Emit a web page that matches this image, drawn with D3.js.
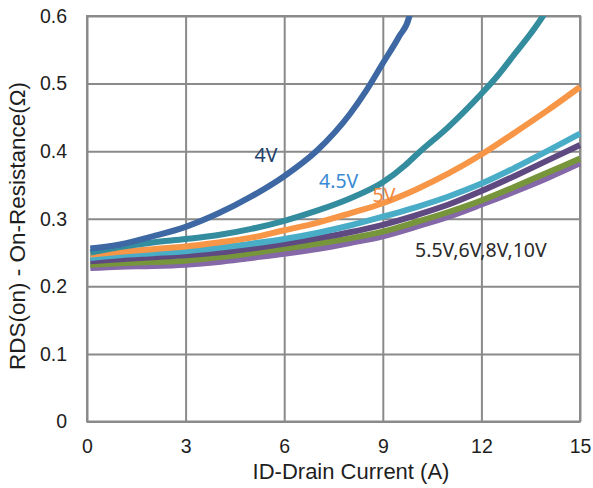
<!DOCTYPE html>
<html>
<head>
<meta charset="utf-8">
<script src="https://cdn.jsdelivr.net/npm/d3@7"></script>
<style>
  body { margin: 0; background: #fff; }
  svg { display: block; }
</style>
</head>
<body>
<svg id="chart" width="593" height="488"></svg>
<script>
// drain current ticks (A) and resistance ticks (ohm)
const xTicks = [0, 3, 6, 9, 12, 15];
const yTicks = [0, 0.1, 0.2, 0.3, 0.4, 0.5, 0.6];

// curves, [ID, RDS(on)]
const vgs4 = [[0.1,0.256],[1,0.262],[2,0.274],[3,0.288],[4,0.308],[5,0.333],[6,0.363],[7,0.401],[8,0.455],[8.5,0.49],[9,0.53],[9.5,0.57],[9.8,0.598],[9.86,0.61]];
const vgs45 = [[0.1,0.25],[1,0.258],[2,0.265],[3,0.27],[4,0.276],[5,0.285],[6,0.297],[7,0.312],[8,0.33],[9,0.354],[9.7,0.38],[10.1,0.398],[11,0.436],[12,0.485],[12.5,0.512],[13,0.543],[13.5,0.574],[13.9,0.602],[14,0.61]];
const vgs5 = [[0.1,0.247],[1,0.251],[2,0.255],[3,0.259],[4,0.265],[5,0.272],[6,0.283],[7,0.294],[8,0.308],[9,0.323],[10,0.343],[11,0.367],[12,0.395],[13,0.427],[14,0.46],[15,0.495]];
const vgs55 = [[0.1,0.242],[1,0.246],[2,0.249],[3,0.252],[4,0.257],[5,0.263],[6,0.27],[7,0.279],[8,0.29],[9,0.303],[10,0.317],[11,0.333],[12,0.352],[13,0.375],[14,0.4],[15,0.426]];
const vgs6 = [[0.1,0.237],[1,0.24],[2,0.243],[3,0.246],[4,0.25],[5,0.256],[6,0.263],[7,0.271],[8,0.28],[9,0.291],[10,0.305],[11,0.321],[12,0.341],[13,0.363],[14,0.386],[15,0.409]];
const vgs8 = [[0.1,0.232],[1,0.234],[2,0.236],[3,0.238],[4,0.243],[5,0.249],[6,0.256],[7,0.263],[8,0.271],[9,0.281],[10,0.295],[11,0.31],[12,0.327],[13,0.347],[14,0.368],[15,0.389]];
const vgs10 = [[0.1,0.227],[1,0.229],[2,0.23],[3,0.232],[4,0.236],[5,0.242],[6,0.248],[7,0.255],[8,0.264],[9,0.274],[10,0.288],[11,0.303],[12,0.321],[13,0.34],[14,0.36],[15,0.382]];

// drawn bottom first so the upper curves sit on top
const series = [
    { data: vgs10, color: '#8468a8' },
    { data: vgs8, color: '#77953a' },
    { data: vgs6, color: '#5e4a80' },
    { data: vgs55, color: '#4aadc8' },
    { data: vgs5, color: '#f79646' },
    { data: vgs45, color: '#348c9f' },
    { data: vgs4, color: '#3d68a3' }
];

// curve labels, positioned in data units
const labels = [
    { text: '4V', x: 5.1, y: 0.384, color: '#243f6b' },
    { text: '4.5V', x: 7.06, y: 0.345, color: '#3a8ad4' },
    { text: '5V', x: 8.69, y: 0.3255, color: '#f2883e' },
    { text: '5.5V,6V,8V,10V', x: 9.98, y: 0.2435, color: '#2a2a2a' }
];

const plotLeft = 87, plotRight = 580, plotTop = 16, plotBottom = 421.5;
const width = plotRight - plotLeft, height = plotBottom - plotTop;

const svg = d3.select('#chart');
const g = svg.append('g').attr('transform', `translate(${plotLeft},${plotTop})`);

const x = d3.scaleLinear().domain([0, 15]).range([0, width]);
const y = d3.scaleLinear().domain([0, 0.6]).range([height, 0]);

const xAxis = d3.axisBottom(x).tickValues(xTicks).tickSize(-height).tickPadding(18);
const yAxis = d3.axisLeft(y).tickValues(yTicks).tickSize(-width).tickPadding(20)
    .tickFormat(d => d === 0 ? '0' : d3.format('.1f')(d));

const xg = g.append('g').attr('transform', `translate(0,${height})`).call(xAxis);
const yg = g.append('g').call(yAxis);

[xg, yg].forEach(a => {
    a.select('.domain').remove();
    a.selectAll('.tick line').attr('stroke', '#8a8a8a').attr('stroke-width', 2);
    a.selectAll('.tick text')
        .attr('fill', '#1e1e1e')
        .style('font-family', '"Liberation Sans", Arial, sans-serif')
        .style('font-size', '19.5px');
});

g.append('rect')
    .attr('width', width).attr('height', height)
    .attr('fill', 'none').attr('stroke', '#8a8a8a').attr('stroke-width', 2);

g.append('clipPath').attr('id', 'plotClip')
    .append('rect').attr('x', -4).attr('y', 0).attr('width', width + 8).attr('height', height);

const line = d3.line()
    .x(d => x(d[0]))
    .y(d => y(d[1]))
    .curve(d3.curveMonotoneX);

g.append('g').attr('clip-path', 'url(#plotClip)')
    .selectAll('path')
    .data(series)
    .join('path')
    .attr('d', d => line(d.data))
    .attr('fill', 'none')
    .attr('stroke', d => d.color)
    .attr('stroke-width', 6)
    .attr('stroke-linejoin', 'round');

g.selectAll('.curve-label')
    .data(labels)
    .join('text')
    .attr('class', 'curve-label')
    .attr('x', d => x(d.x))
    .attr('y', d => y(d.y))
    .attr('fill', d => d.color)
    .style('font-family', '"Noto Sans", sans-serif')
    .style('font-size', '19.5px')
    .text(d => d.text);

// axis titles
svg.append('text')
    .attr('x', 351).attr('y', 479)
    .attr('text-anchor', 'middle')
    .attr('fill', '#1e1e1e')
    .style('font-family', '"Liberation Sans", Arial, sans-serif')
    .style('font-size', '22px')
    .text('ID-Drain Current (A)');

svg.append('text')
    .attr('transform', 'translate(25,226) rotate(-90)')
    .attr('text-anchor', 'middle')
    .attr('fill', '#1e1e1e')
    .style('font-family', '"Liberation Sans", Arial, sans-serif')
    .style('font-size', '22.5px')
    .text('RDS(on) - On-Resistance(Ω)');
</script>
</body>
</html>
